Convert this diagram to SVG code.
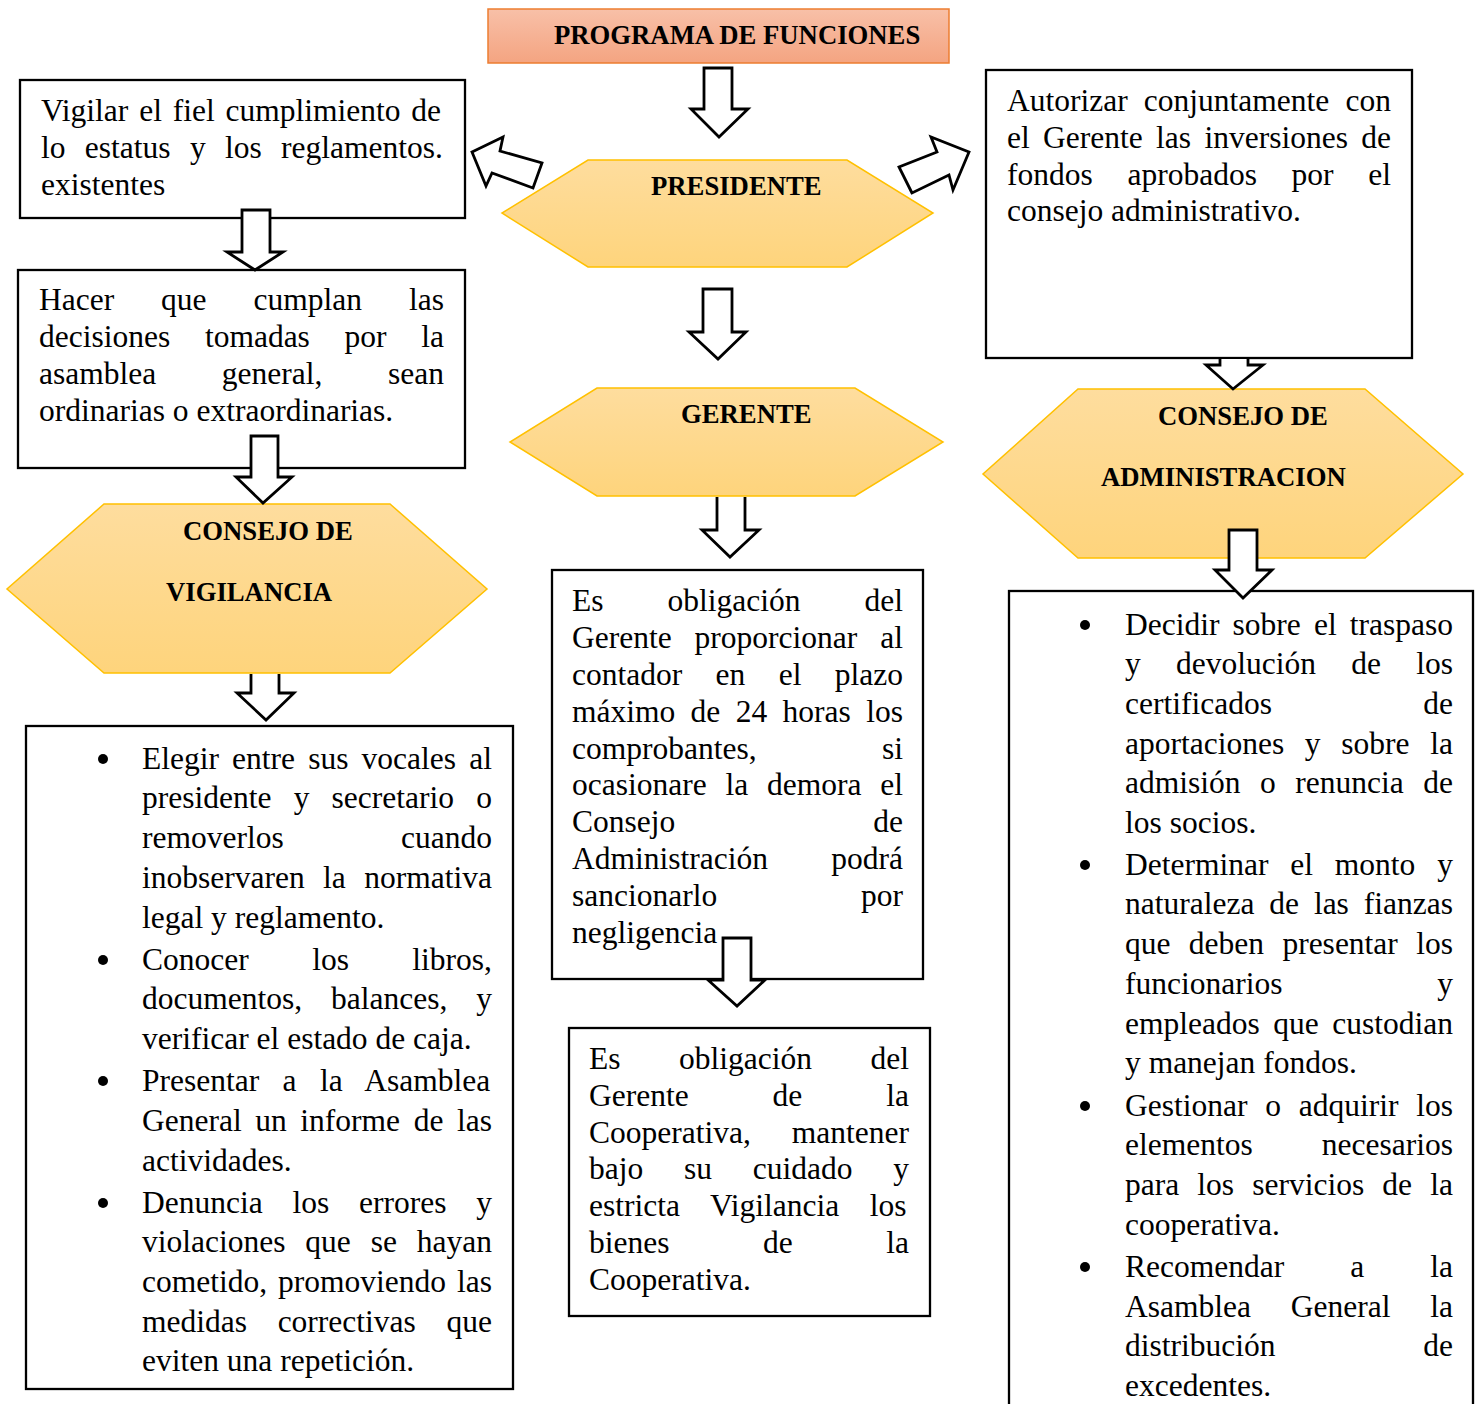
<svg xmlns="http://www.w3.org/2000/svg" width="1481" height="1404" viewBox="0 0 1481 1404">
<defs>
<linearGradient id="gold" x1="0" y1="0" x2="0" y2="1">
<stop offset="0" stop-color="#FEDD9E"/>
<stop offset="1" stop-color="#FED47C"/>
</linearGradient>
<linearGradient id="salmon" x1="0" y1="0" x2="0" y2="1">
<stop offset="0" stop-color="#F8C0A8"/>
<stop offset="1" stop-color="#F4A481"/>
</linearGradient>
<style>
.box{fill:#fff;stroke:#000;stroke-width:2.3}
.hex{fill:url(#gold);stroke:#FFC000;stroke-width:1.5}
.t{font-family:"Liberation Serif","Times New Roman",serif;font-size:31.5px;fill:#000}
.h{font-family:"Liberation Serif","Times New Roman",serif;font-size:26.7px;font-weight:bold;fill:#000}
.arr{fill:#fff;stroke:#000;stroke-width:2.8;stroke-linejoin:miter}
.bul{fill:#000}
</style>
</defs>
<rect width="1481" height="1404" fill="#fff"/>

<g id="title">
<rect x="488" y="9" width="461" height="54" fill="url(#salmon)" stroke="#ED7D31" stroke-width="1.5"/>
<text class="h" x="554" y="44">PROGRAMA DE FUNCIONES</text>
</g>

<g id="presidente">
<polygon class="hex" points="588,160 847,160 933,213 847,267 588,267 502,213"/>
<text class="h" x="651" y="195">PRESIDENTE</text>
</g>

<g id="gerente">
<polygon class="hex" points="597,388 855,388 943,442 855,496 597,496 510,442"/>
<text class="h" x="681" y="423">GERENTE</text>
</g>

<g id="consejo-vigilancia">
<polygon class="hex" points="104,504 390,504 487,589 390,673 104,673 7,589"/>
<text class="h" x="183" y="540">CONSEJO DE</text>
<text class="h" x="166" y="601">VIGILANCIA</text>
</g>

<g id="consejo-administracion">
<polygon class="hex" points="1078,389 1365,389 1463,474 1365,558 1078,558 983,474"/>
<text class="h" x="1158" y="425">CONSEJO DE</text>
<text class="h" x="1101" y="486">ADMINISTRACION</text>
</g>

<g id="vigilar">
<rect class="box" x="20" y="80" width="445" height="138"/>
<text class="t" x="41" y="121" word-spacing="2.95">Vigilar el fiel cumplimiento de</text>
<text class="t" x="41" y="158" word-spacing="11.47">lo estatus y los reglamentos.</text>
<text class="t" x="41" y="195">existentes</text>
</g>

<g id="hacer">
<rect class="box" x="18" y="270" width="447" height="198"/>
<text class="t" x="39" y="310" word-spacing="39.05">Hacer que cumplan las</text>
<text class="t" x="39" y="347" word-spacing="26.81">decisiones tomadas por la</text>
<text class="t" x="39" y="384" word-spacing="57.74">asamblea general, sean</text>
<text class="t" x="39" y="421">ordinarias o extraordinarias.</text>
</g>

<g id="autorizar">
<rect class="box" x="986" y="70" width="426" height="288"/>
<text class="t" x="1007" y="111" word-spacing="8.29">Autorizar conjuntamente con</text>
<text class="t" x="1007" y="148" word-spacing="5.46">el Gerente las inversiones de</text>
<text class="t" x="1007" y="185" word-spacing="26.81">fondos aprobados por el</text>
<text class="t" x="1007" y="221">consejo administrativo.</text>
</g>

<g id="obligacion-contador">
<rect class="box" x="552" y="570" width="371" height="409"/>
<text class="t" x="572" y="611" word-spacing="56.13">Es obligación del</text>
<text class="t" x="572" y="648" word-spacing="15.05">Gerente proporcionar al</text>
<text class="t" x="572" y="685" word-spacing="25.48">contador en el plazo</text>
<text class="t" x="572" y="722" word-spacing="7.5">máximo de 24 horas los</text>
<text class="t" x="572" y="759" word-spacing="117.5">comprobantes, si</text>
<text class="t" x="572" y="795" word-spacing="10.91">ocasionare la demora el</text>
<text class="t" x="572" y="832" word-spacing="190.1">Consejo de</text>
<text class="t" x="572" y="869" word-spacing="55.4">Administración podrá</text>
<text class="t" x="572" y="906" word-spacing="135.9">sancionarlo por</text>
<text class="t" x="572" y="943">negligencia</text>
</g>

<g id="obligacion-bienes">
<rect class="box" x="569" y="1028" width="361" height="288"/>
<text class="t" x="589" y="1069" word-spacing="50.63">Es obligación del</text>
<text class="t" x="589" y="1106" word-spacing="76.04">Gerente de la</text>
<text class="t" x="589" y="1143" word-spacing="33.07">Cooperativa, mantener</text>
<text class="t" x="589" y="1179" word-spacing="32.88">bajo su cuidado y</text>
<text class="t" x="589" y="1216" word-spacing="22.65">estricta Vigilancia los</text>
<text class="t" x="589" y="1253" word-spacing="85.65">bienes de la</text>
<text class="t" x="589" y="1290">Cooperativa.</text>
</g>

<g id="funciones-vigilancia">
<rect class="box" x="26" y="726" width="487" height="663"/>
<circle class="bul" cx="103" cy="759" r="5"/>
<text class="t" x="142" y="769" word-spacing="5.27">Elegir entre sus vocales al</text>
<text class="t" x="142" y="808" word-spacing="14.32">presidente y secretario o</text>
<text class="t" x="142" y="848" word-spacing="109.43">removerlos cuando</text>
<text class="t" x="142" y="888" word-spacing="10.54">inobservaren la normativa</text>
<text class="t" x="142" y="928">legal y reglamento.</text>
<circle class="bul" cx="103" cy="960" r="5"/>
<text class="t" x="142" y="970" word-spacing="55.57">Conocer los libros,</text>
<text class="t" x="142" y="1009" word-spacing="21.03">documentos, balances, y</text>
<text class="t" x="142" y="1049">verificar el estado de caja.</text>
<circle class="bul" cx="103" cy="1081" r="5"/>
<text class="t" x="142" y="1091" word-spacing="15.49">Presentar a la Asamblea</text>
<text class="t" x="142" y="1131" word-spacing="5.71">General un informe de las</text>
<text class="t" x="142" y="1171">actividades.</text>
<circle class="bul" cx="103" cy="1203" r="5"/>
<text class="t" x="142" y="1213" word-spacing="21.9">Denuncia los errores y</text>
<text class="t" x="142" y="1252" word-spacing="11.98">violaciones que se hayan</text>
<text class="t" x="142" y="1292" word-spacing="3.07">cometido, promoviendo las</text>
<text class="t" x="142" y="1332" word-spacing="22.79">medidas correctivas que</text>
<text class="t" x="142" y="1371">eviten una repetición.</text>
</g>

<g id="funciones-administracion">
<rect class="box" x="1009" y="591" width="464" height="850"/>
<circle class="bul" cx="1085" cy="625" r="5"/>
<text class="t" x="1125" y="635" word-spacing="5.24">Decidir sobre el traspaso</text>
<text class="t" x="1125" y="674" word-spacing="27.38">y devolución de los</text>
<text class="t" x="1125" y="714" word-spacing="143.44">certificados de</text>
<text class="t" x="1125" y="754" word-spacing="12.82">aportaciones y sobre la</text>
<text class="t" x="1125" y="793" word-spacing="11.64">admisión o renuncia de</text>
<text class="t" x="1125" y="833">los socios.</text>
<circle class="bul" cx="1085" cy="865" r="5"/>
<text class="t" x="1125" y="875" word-spacing="13.97">Determinar el monto y</text>
<text class="t" x="1125" y="914" word-spacing="7">naturaleza de las fianzas</text>
<text class="t" x="1125" y="954" word-spacing="10.48">que deben presentar los</text>
<text class="t" x="1125" y="994" word-spacing="146.9">funcionarios y</text>
<text class="t" x="1125" y="1034" word-spacing="5.65">empleados que custodian</text>
<text class="t" x="1125" y="1073">y manejan fondos.</text>
<circle class="bul" cx="1085" cy="1106" r="5"/>
<text class="t" x="1125" y="1116" word-spacing="9.89">Gestionar o adquirir los</text>
<text class="t" x="1125" y="1155" word-spacing="61.2">elementos necesarios</text>
<text class="t" x="1125" y="1195" word-spacing="10.27">para los servicios de la</text>
<text class="t" x="1125" y="1235">cooperativa.</text>
<circle class="bul" cx="1085" cy="1267" r="5"/>
<text class="t" x="1125" y="1277" word-spacing="58.16">Recomendar a la</text>
<text class="t" x="1125" y="1317" word-spacing="31.92">Asamblea General la</text>
<text class="t" x="1125" y="1356" word-spacing="139.81">distribución de</text>
<text class="t" x="1125" y="1396">excedentes.</text>
</g>

<g id="connectors">
<polygon class="arr" points="704,68 732,68 732,109 748,109 719,137 691,109 704,109"/>
<polygon class="arr" points="703,289 732,289 732,332 746,332 718,359 689,332 703,332"/>
<path class="arr" d="M717,497 L717,530 L702,530 L730,557 L759,530 L745,530 L745,497"/>
<polygon class="arr" points="723,938 751,938 751,980 765,980 737,1006 708,980 723,980"/>
<polygon class="arr" points="242,210 270,210 270,252 283,252 255,270 227,252 242,252"/>
<polygon class="arr" points="251,436 278,436 278,477 292,477 263,503 236,477 251,477"/>
<path class="arr" d="M251,674 L251,693 L237,693 L266,720 L294,693 L279,693 L279,674"/>
<path class="arr" d="M1220,359 L1220,365 L1206,365 L1233,389 L1263,365 L1248,365 L1248,359"/>
<polygon class="arr" points="1229,530 1257,530 1257,570 1272,570 1243,598 1215,570 1229,570"/>
<polygon class="arr" points="472,152 503,137 500,151 542,163 533,188 492,173 486,186"/>
<polygon class="arr" points="912,193 899,167 937,152 931,137 969,152 953,190 949,175"/>
</g>
</svg>
